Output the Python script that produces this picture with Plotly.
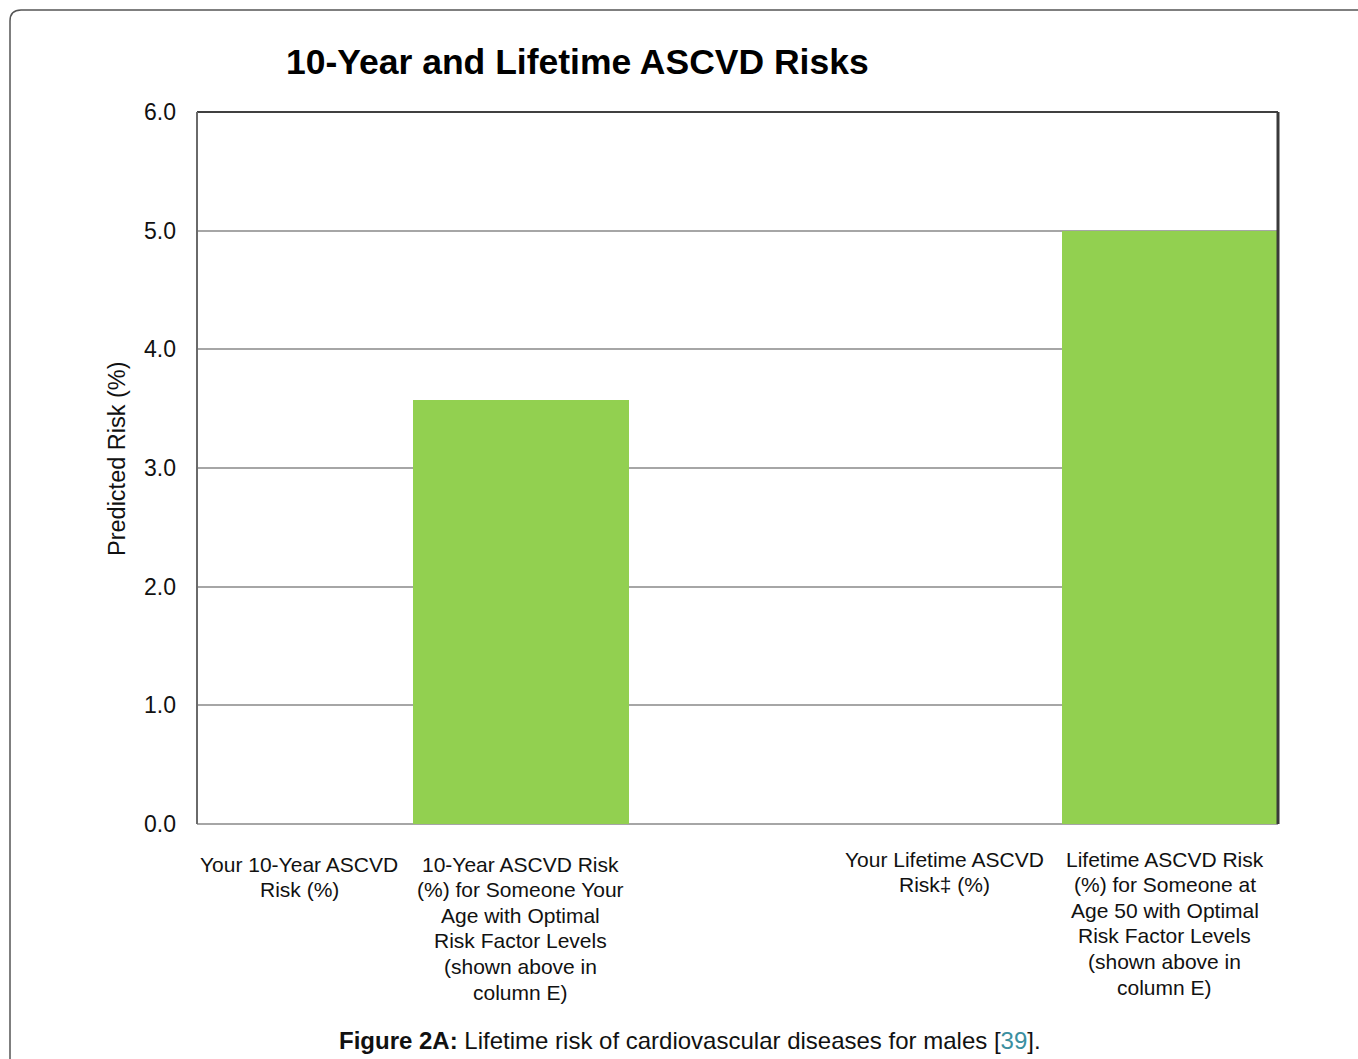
import plotly.graph_objects as go

# Chart data
categories = [
    "Your 10-Year ASCVD<br>Risk (%)",
    "10-Year ASCVD Risk<br>(%) for Someone Your<br>Age with Optimal<br>Risk Factor Levels<br>(shown above in<br>column E)",
    "",
    "Your Lifetime ASCVD<br>Risk\u2021 (%)",
    "Lifetime ASCVD Risk<br>(%) for Someone at<br>Age 50 with Optimal<br>Risk Factor Levels<br>(shown above in<br>column E)",
]
risk_values = [0.0, 3.57, None, 0.0, 5.0]
y_ticks = [0, 1, 2, 3, 4, 5, 6]
y_tick_labels = ["0.0", "1.0", "2.0", "3.0", "4.0", "5.0", "6.0"]
y_title = "Predicted Risk (%)"

FONT = "Liberation Sans"
W, H = 1358, 1059
L, R, T, B = 197, 80, 112, 235
PW, PH = W - L - R, H - T - B

positions = list(range(len(categories)))

fig = go.Figure()
fig.add_trace(go.Bar(
    x=positions,
    y=risk_values,
    width=1.0,
    marker=dict(color="#92d050", line=dict(width=0)),
    hoverinfo="skip",
))

# Category labels under the axis, one annotation per line for tight spacing
first_line_offset = [-40, -40, -40, -35, -35]
label_dx = [-6, -1, 0, -9, -5]
LINE_STEP = 25.6
annotations = []
for i, text in enumerate(categories):
    if not text:
        continue
    for k, line in enumerate(text.split("<br>")):
        annotations.append(dict(
            x=positions[i], y=0, xref="x", yref="paper",
            text=line, showarrow=False, xanchor="center", yanchor="middle",
            yshift=first_line_offset[i] - k * LINE_STEP, xshift=label_dx[i],
            font=dict(family=FONT, size=21, color="#111111"),
        ))

# Y-axis title, placed as rotated text left of the tick labels
annotations.append(dict(
    x=(117 - L) / PW, y=(H - B - 459) / PH, xref="paper", yref="paper",
    text=y_title, showarrow=False, textangle=-90,
    xanchor="center", yanchor="middle",
    font=dict(family=FONT, size=23.5, color="#111111"),
))

# Chart title
annotations.append(dict(
    x=(577 - L) / PW, y=(H - B - 62) / PH, xref="paper", yref="paper",
    text="<b>10-Year and Lifetime ASCVD Risks</b>", showarrow=False,
    xanchor="center", yanchor="middle",
    font=dict(family=FONT, size=35.5, color="#000000"),
))

# Figure caption
annotations.append(dict(
    x=(690 - L) / PW, y=(H - B - 1040) / PH, xref="paper", yref="paper",
    text="<b>Figure 2A:</b> Lifetime risk of cardiovascular diseases for males "
         "[<span style='color:#3b8fa0'>39</span>].",
    showarrow=False, xanchor="center", yanchor="middle",
    font=dict(family=FONT, size=24, color="#111111"),
))

# Outer page frame with a rounded top-left corner
fx0 = (10 - L) / PW
fx1 = (W + 20 - L) / PW
fy_top = (H - B - 10) / PH
fy_bot = (H - B - H - 20) / PH
rx = 11 / PW
ry = 11 / PH
frame_path = (f"M {fx0},{fy_bot} L {fx0},{fy_top - ry} "
              f"Q {fx0},{fy_top} {fx0 + rx},{fy_top} L {fx1},{fy_top}")

shapes = [
    dict(type="path", path=frame_path, xref="paper", yref="paper",
         line=dict(color="#555555", width=1.5), layer="above"),
    # plot-area border (top, right, left)
    dict(type="line", xref="paper", yref="paper", x0=0, x1=1, y0=1, y1=1,
         line=dict(color="#404040", width=2), layer="above"),
    dict(type="line", xref="paper", yref="paper", x0=1, x1=1, y0=0, y1=1,
         line=dict(color="#3a3a3a", width=3), layer="above"),
    dict(type="line", xref="paper", yref="paper", x0=0, x1=0, y0=0, y1=1,
         line=dict(color="#6a6a6a", width=2), layer="above"),
]

fig.update_layout(
    width=W, height=H,
    margin=dict(l=L, r=R, t=T, b=B, pad=0),
    paper_bgcolor="white", plot_bgcolor="white",
    showlegend=False,
    bargap=0,
    annotations=annotations,
    shapes=shapes,
    font=dict(family=FONT, color="#111111"),
    xaxis=dict(
        range=[-0.5, len(categories) - 0.5],
        showticklabels=False, showgrid=False, zeroline=False,
        showline=False, ticks="", fixedrange=True,
    ),
    yaxis=dict(
        range=[0, 6],
        tickvals=y_ticks, ticktext=y_tick_labels,
        tickfont=dict(family=FONT, size=23, color="#111111"),
        ticks="", ticklen=0, ticklabelstandoff=20,
        showgrid=True, gridcolor="#a6a6a6", gridwidth=2,
        zeroline=True, zerolinecolor="#a6a6a6", zerolinewidth=2,
        showline=False,
        fixedrange=True,
    ),
)

fig.write_html("out.html")
